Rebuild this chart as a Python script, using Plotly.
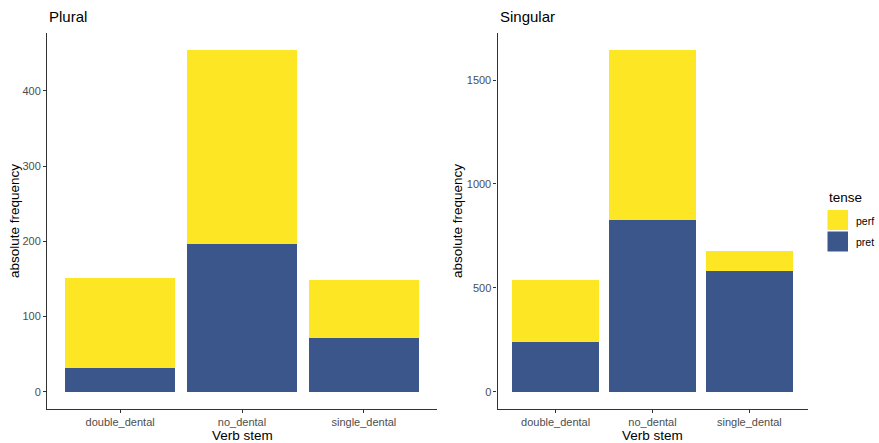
import plotly.graph_objects as go

categories = ["double_dental", "no_dental", "single_dental"]
plural_pret = [32, 196, 71]
plural_perf = [119, 258, 77]      # stacked on top of pret (totals 151, 454, 148)
singular_pret = [240, 829, 583]
singular_perf = [300, 815, 97]    # totals 540, 1644, 680
panel_titles = ["Plural", "Singular"]
y_ticks_plural = [0, 100, 200, 300, 400]
y_ticks_singular = [0, 500, 1000, 1500]

PERF = "#FDE725"
PRET = "#3A568A"
W, H = 879, 443
FONT = "Liberation Sans, Arial, sans-serif"

def px_x(p):
    return p / W

def px_y(p):
    return 1 - p / H

fig = go.Figure()
for xa, ya, pret, perf in [("x", "y", plural_pret, plural_perf),
                           ("x2", "y2", singular_pret, singular_perf)]:
    fig.add_trace(go.Bar(x=categories, y=pret, name="pret", marker_color=PRET,
                         marker_line_width=0, xaxis=xa, yaxis=ya, showlegend=False, width=0.9))
    fig.add_trace(go.Bar(x=categories, y=perf, name="perf", marker_color=PERF,
                         marker_line_width=0, xaxis=xa, yaxis=ya, showlegend=False, width=0.9))

def axis_common():
    return dict(showline=True, linecolor="#333333", linewidth=1.1, ticks="outside",
                ticklen=3, tickcolor="#333333", tickwidth=1.1, showgrid=False,
                zeroline=False, color="#4d4d4d",
                tickfont=dict(family=FONT, size=11, color="#4d4d4d"))

ydom = [px_y(409), px_y(33)]
pmax = max(a + b for a, b in zip(plural_pret, plural_perf))
smax = max(a + b for a, b in zip(singular_pret, singular_perf))

fig.update_layout(
    template="none",
    width=W, height=H, margin=dict(l=0, r=0, t=0, b=0),
    plot_bgcolor="white", paper_bgcolor="white", barmode="stack", bargap=0.1,
    xaxis=dict(domain=[px_x(47), px_x(437)], anchor="y", range=[-0.6, 2.6], **axis_common()),
    yaxis=dict(domain=ydom, anchor="x", range=[-0.05 * pmax, 1.05 * pmax],
               tickvals=y_ticks_plural, **axis_common()),
    xaxis2=dict(domain=[px_x(497.5), px_x(807.5)], anchor="y2", range=[-0.6, 2.6], **axis_common()),
    yaxis2=dict(domain=ydom, anchor="x2", range=[-0.05 * smax, 1.05 * smax],
                tickvals=y_ticks_singular, **axis_common()),
    font=dict(family=FONT, color="#4d4d4d"),
)

ann = []
# panel titles
ann.append(dict(text=panel_titles[0], x=px_x(47), y=px_y(17), xref="paper", yref="paper",
                xanchor="left", yanchor="middle", showarrow=False,
                font=dict(family=FONT, size=15, color="black")))
ann.append(dict(text=panel_titles[1], x=px_x(498), y=px_y(17), xref="paper", yref="paper",
                xanchor="left", yanchor="middle", showarrow=False,
                font=dict(family=FONT, size=15, color="black")))
# axis titles
for xc in [242, 652.5]:
    ann.append(dict(text="Verb stem", x=px_x(xc), y=px_y(435), xref="paper", yref="paper",
                    xanchor="center", yanchor="middle", showarrow=False,
                    font=dict(family=FONT, size=13.5, color="black")))
for xc in [14, 457]:
    ann.append(dict(text="absolute frequency", x=px_x(xc), y=px_y(221), xref="paper", yref="paper",
                    xanchor="center", yanchor="middle", showarrow=False, textangle=-90,
                    font=dict(family=FONT, size=13.5, color="black")))
# legend
ann.append(dict(text="tense", x=px_x(827), y=px_y(197), xref="paper", yref="paper",
                xanchor="left", yanchor="middle", showarrow=False,
                font=dict(family=FONT, size=13.5, color="black")))
ann.append(dict(text="perf", x=px_x(854), y=px_y(221), xref="paper", yref="paper",
                xanchor="left", yanchor="middle", showarrow=False,
                font=dict(family=FONT, size=10.5, color="black")))
ann.append(dict(text="pret", x=px_x(854), y=px_y(241.5), xref="paper", yref="paper",
                xanchor="left", yanchor="middle", showarrow=False,
                font=dict(family=FONT, size=10.5, color="black")))
fig.update_layout(annotations=ann)

fig.add_shape(type="rect", xref="paper", yref="paper", x0=px_x(827.5), x1=px_x(848),
              y0=px_y(230), y1=px_y(210), fillcolor=PERF, line_width=0)
fig.add_shape(type="rect", xref="paper", yref="paper", x0=px_x(827.5), x1=px_x(848),
              y0=px_y(251.5), y1=px_y(231.5), fillcolor=PRET, line_width=0)

fig.write_html("out.html", config={"displayModeBar": False},
               post_script="document.body.style.margin='0';document.body.style.padding='0';"
                           "document.body.style.overflow='hidden';")
